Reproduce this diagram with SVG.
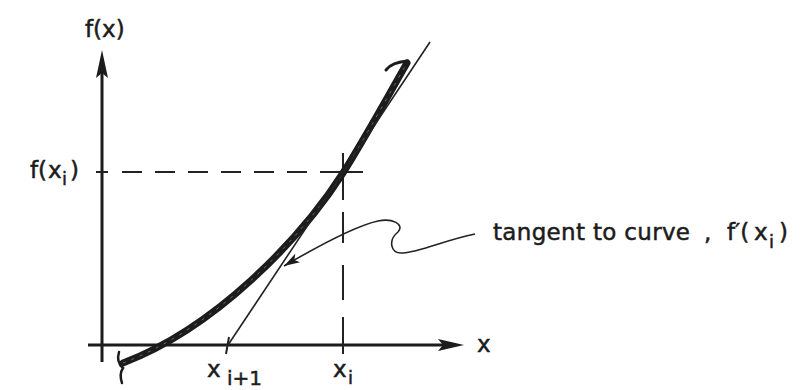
<svg xmlns="http://www.w3.org/2000/svg" width="800" height="390" viewBox="0 0 800 390">
<defs>
<style>
.t{font-family:"DejaVu Sans","Liberation Sans",sans-serif;font-size:23px;fill:#1c1c1c;stroke:#1c1c1c;stroke-width:0.5}
.s{font-size:18px}
.ax{stroke:#1c1c1c;stroke-width:3;fill:none}
.dash{stroke:#222;stroke-width:2;fill:none}
.thin{stroke:#222;stroke-width:1.6;fill:none}
</style>
<marker id="ah" viewBox="0 0 16 10" refX="16" refY="5" markerWidth="16" markerHeight="10" markerUnits="userSpaceOnUse" orient="auto">
<path d="M0,0 L16,5 L0,10 L4,5 Z" fill="#1c1c1c"/>
</marker>
</defs>
<rect width="800" height="390" fill="#fff"/>

<g id="y-axis">
<line class="ax" x1="102" y1="362" x2="102" y2="72"/>
<path d="M102,50 L108,78 L102,73 L96,78 Z" fill="#1c1c1c"/>
</g>
<g id="x-axis">
<line class="ax" x1="88" y1="345" x2="445" y2="345"/>
<path d="M464,345 L438,339 L443,345 L438,351 Z" fill="#1c1c1c"/>
</g>

<g id="guides">
<line class="dash" x1="96" y1="172" x2="108" y2="172"/>
<path class="dash" d="M122,172 H142 M155,172 H175 M188,172 H208 M221,172 H241 M254,172 H274 M287,172 H307 M320,172 H363"/>
<path class="dash" d="M343,153 V200 M343,212 V243 M343,265 V300 M343,317 V354"/>
<line class="dash" x1="229" y1="337" x2="226" y2="354"/>
</g>

<g id="curve">
<path d="M123,363 C215,328 300,240 343,173 C365,138 388,96 407,63" fill="none" stroke="#1c1c1c" stroke-width="7" stroke-linecap="round"/>
<path d="M123,363 C215,328 300,240 343,173 C365,138 388,96 407,63" fill="none" stroke="#6a6a6a" stroke-width="1" stroke-dasharray="3 6"/>
<path d="M386,70 Q392,62 408,61" fill="none" stroke="#1c1c1c" stroke-width="3" stroke-linecap="round"/>
<path d="M119,352 Q116,362 123,368 Q119,374 122,383" fill="none" stroke="#1c1c1c" stroke-width="2.5" stroke-linecap="round"/>
</g>

<g id="tangent">
<line class="thin" x1="228" y1="345" x2="430" y2="42"/>
</g>

<g id="connectors">
<path class="thin" d="M475,234 C445,240 420,252 403,253 C390,254 388,240 398,232 C405,224 392,218 378,221 C355,226 320,245 284,266" marker-end="url(#ah)"/>
</g>

<g id="labels">
<text class="t" x="85" y="37">f(x)</text>
<text class="t" y="178"><tspan x="30">f(</tspan><tspan x="48">x</tspan><tspan class="s" x="62" y="185">i</tspan><tspan x="70" y="178">)</tspan></text>
<text class="t" x="477" y="352">x</text>
<text class="t" y="377"><tspan x="333">x</tspan><tspan class="s" x="348" y="384">i</tspan></text>
<text class="t" y="377"><tspan x="207">x</tspan><tspan x="227" y="385" style="font-size:20px">i+1</tspan></text>
<text class="t" x="493" y="240" textLength="197" lengthAdjust="spacing">tangent to curve</text>
<text class="t" y="240"><tspan x="704">,</tspan><tspan x="727">f′(</tspan><tspan x="754">x</tspan><tspan class="s" x="769" y="248">i</tspan><tspan x="779" y="240">)</tspan></text>
</g>
</svg>
